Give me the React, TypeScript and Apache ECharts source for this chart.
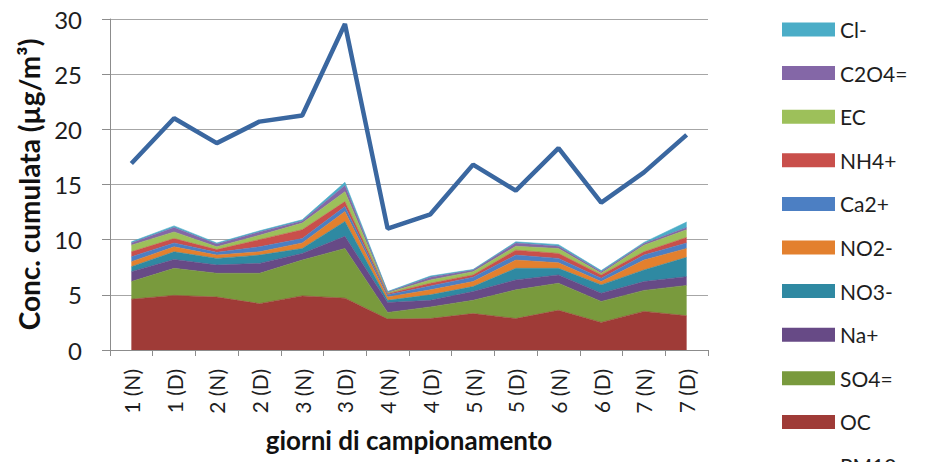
import React, { useEffect, useRef } from "react";
import * as echarts from "echarts";

const categories = ["1 (N)", "1 (D)", "2 (N)", "2 (D)", "3 (N)", "3 (D)", "4 (N)", "4 (D)", "5 (N)", "5 (D)", "6 (N)", "6 (D)", "7 (N)", "7 (D)"];
const yTicks = [0, 5, 10, 15, 20, 25, 30];

const OC = [4.6, 4.95, 4.8, 4.2, 4.9, 4.7, 2.8, 2.85, 3.3, 2.85, 3.6, 2.5, 3.5, 3.1];
const SO4 = [1.6, 2.45, 2.15, 2.75, 3.25, 4.5, 0.6, 1.05, 1.2, 2.6, 2.45, 1.9, 1.9, 2.75];
const Na = [0.9, 0.8, 0.75, 0.9, 0.6, 1.1, 0.9, 0.6, 0.8, 0.9, 0.75, 0.75, 0.8, 0.8];
const NO3 = [0.45, 0.7, 0.6, 0.75, 0.45, 1.35, 0.2, 0.5, 0.45, 1.05, 0.6, 0.75, 1.05, 1.75];
const NO2 = [0.45, 0.45, 0.3, 0.3, 0.5, 0.9, 0.3, 0.45, 0.45, 0.75, 0.5, 0.3, 0.9, 0.8];
const Ca = [0.45, 0.35, 0.25, 0.45, 0.4, 0.45, 0.2, 0.35, 0.4, 0.45, 0.4, 0.3, 0.45, 0.5];
const NH4 = [0.45, 0.4, 0.25, 0.65, 0.8, 0.45, 0.1, 0.25, 0.2, 0.45, 0.45, 0.3, 0.3, 0.5];
const EC = [0.6, 0.6, 0.25, 0.4, 0.6, 0.9, 0.1, 0.3, 0.3, 0.35, 0.45, 0.15, 0.6, 0.7];
const C2O4 = [0.2, 0.4, 0.25, 0.3, 0.2, 0.55, 0.05, 0.25, 0.15, 0.3, 0.2, 0.15, 0.15, 0.2];
const Cl = [0.1, 0.15, 0.1, 0.1, 0.1, 0.3, 0.05, 0.1, 0.05, 0.1, 0.15, 0.1, 0.1, 0.5];
const PM10 = [16.9, 21.0, 18.75, 20.7, 21.25, 29.55, 11.0, 12.3, 16.8, 14.45, 18.3, 13.35, 16.1, 19.5];

const stackDefs = [
  { name: "OC", data: OC, color: "#9F3B37" },
  { name: "SO4=", data: SO4, color: "#799A3D" },
  { name: "Na+", data: Na, color: "#674A86" },
  { name: "NO3-", data: NO3, color: "#2F89A2" },
  { name: "NO2-", data: NO2, color: "#E3802E" },
  { name: "Ca2+", data: Ca, color: "#4C7FC3" },
  { name: "NH4+", data: NH4, color: "#C94F4B" },
  { name: "EC", data: EC, color: "#9DC05A" },
  { name: "C2O4=", data: C2O4, color: "#8467A7" },
  { name: "Cl-", data: Cl, color: "#4BADC7" },
];

const legendOrder = ["Cl-", "C2O4=", "EC", "NH4+", "Ca2+", "NO2-", "NO3-", "Na+", "SO4=", "OC", "PM10"];

const FONT = "Lato, 'Open Sans', sans-serif";

export default function App() {
  const ref = useRef<HTMLDivElement>(null);
  useEffect(() => {
    if (!ref.current) return;
    const chart = echarts.init(ref.current, null, { renderer: "svg" });
    const series: any[] = stackDefs.map((s) => ({
      name: s.name,
      type: "line",
      stack: "total",
      data: s.data,
      symbol: "none",
      itemStyle: { color: s.color },
      lineStyle: { width: 0.6, color: s.color },
      areaStyle: { color: s.color, opacity: 1 },
      z: 2,
    }));
    series.push({
      name: "PM10",
      type: "line",
      data: PM10,
      symbol: "none",
      itemStyle: { color: "#3A67A0" },
      lineStyle: { width: 4.5, color: "#3A67A0" },
      z: 5,
    });
    chart.setOption({
      animation: false,
      textStyle: { fontFamily: FONT },
      grid: { left: 110, right: 219, top: 19, bottom: 112, outerBoundsMode: "none", containLabel: false },
      legend: {
        orient: "vertical",
        left: 777,
        top: 14,
        height: 560,
        itemWidth: 53,
        itemHeight: 14,
        itemGap: 22.6,
        data: legendOrder.map((n) =>
          n === "PM10" ? { name: n, icon: "rect", itemStyle: { color: "rgba(0,0,0,0)", opacity: 0 } } : { name: n, icon: "rect" }
        ),
        textStyle: { fontFamily: FONT, fontSize: 21, color: "#1e1e1e", padding: [0, 0, 0, 0] },
        selectedMode: false,
      },
      xAxis: {
        type: "category",
        data: categories,
        boundaryGap: true,
        axisLine: { lineStyle: { color: "#8C8C8C", width: 1 } },
        axisTick: { show: true, interval: 0, length: 6, lineStyle: { color: "#8C8C8C" } },
        axisLabel: { rotate: 90, interval: 0, margin: 19, fontSize: 21, color: "#1e1e1e", fontFamily: FONT },
        name: "giorni di campionamento",
        nameLocation: "middle",
        nameGap: 77,
        nameTextStyle: { fontSize: 26, fontWeight: "bold", color: "#111", fontFamily: FONT },
      },
      yAxis: {
        type: "value",
        min: 0,
        max: 30,
        interval: 5,
        axisLine: { show: true, lineStyle: { color: "#8C8C8C", width: 1 } },
        axisTick: { show: true, length: 8, lineStyle: { color: "#8C8C8C" } },
        axisLabel: { margin: 28, fontSize: 24, color: "#1e1e1e", fontFamily: FONT, formatter: (v: number) => (yTicks.includes(v) ? String(v) : "") },
        splitLine: { show: true, lineStyle: { color: "#A6A6A6", width: 1 } },
        name: "Conc. cumulata (µg/m³)",
        nameLocation: "middle",
        nameGap: 66,
        nameTextStyle: { fontSize: 28, fontWeight: "bold", color: "#111", fontFamily: FONT },
      },
      series,
    });
    return () => chart.dispose();
  }, []);
  return <div ref={ref} style={{ position: "fixed", left: 0, top: 0, width: 927, height: 462, background: "#fff" }} />;
}
